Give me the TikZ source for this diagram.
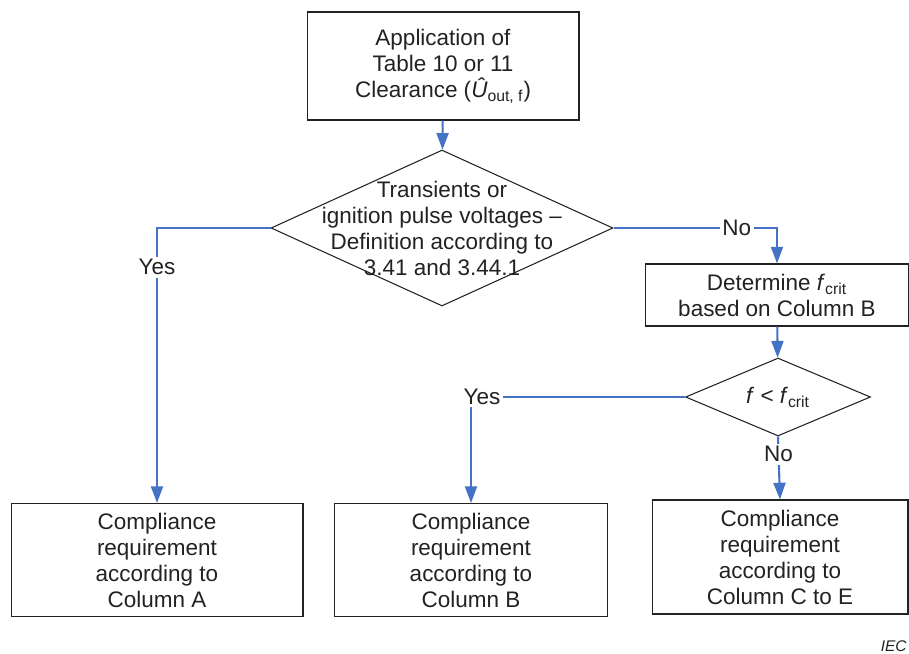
\documentclass[tikz,border=0pt]{standalone}
\usepackage{fontspec}
\setmainfont{Liberation Sans}
\usetikzlibrary{arrows.meta}
\usetikzlibrary{shapes.geometric}
\definecolor{flowblue}{RGB}{68,114,196}
\definecolor{inkgray}{RGB}{34,34,34}

\begin{document}
\begin{tikzpicture}[x=0.02cm,y=-0.02cm,
	font=\fontsize{12.8}{14.8}\selectfont,
	box/.style={draw=inkgray, line width=0.6pt, align=center, inner sep=0pt, text=inkgray},
	decision/.style={diamond, draw=inkgray, line width=0.6pt, inner sep=0pt},
	flow/.style={draw=flowblue, line width=1.2pt, -{Triangle[width=6.8pt,length=9.5pt]}},
	lbl/.style={fill=white, inner sep=1.5pt, text=inkgray}]
	\useasboundingbox (0,0) rectangle (909,653);
	% boxes
	\node[box, minimum width=5.44cm, minimum height=2.16cm] (appl) at (443,66)
		{Application of\\Table 10 or 11\\Clearance (\textit{Û}\textsubscript{out, f})};
	\node[decision, minimum width=6.84cm, minimum height=3.12cm,
		label={[name=transtext, align=center, text=inkgray]center:Transients or\\ignition pulse voltages --\\Definition according to\\3.41 and 3.44.1}] (trans) at (442,228) {};
	\node[box, minimum width=5.26cm, minimum height=1.24cm] (fcrit) at (777,295)
		{Determine \textit{f}\textsubscript{crit}\\based on Column B};
	\node[decision, minimum width=3.7cm, minimum height=1.56cm,
		label={[name=freqtext, text=inkgray]center:\textit{f} < \textit{f}\textsubscript{crit}}] (freq) at (778,397) {};
	\node[box, minimum width=5.84cm, minimum height=2.26cm] (colA) at (157,560)
		{Compliance\\requirement\\according to\\Column A};
	\node[box, minimum width=5.46cm, minimum height=2.26cm] (colB) at (471,560)
		{Compliance\\requirement\\according to\\Column B};
	\node[box, minimum width=5.12cm, minimum height=2.28cm] (colC) at (780,557)
		{Compliance\\requirement\\according to\\Column C to E};
	\node[anchor=base east, inner sep=0pt, text=inkgray, font=\fontsize{8.8}{10}\selectfont\itshape] (iec) at (907,651) {IEC};
	% connectors
	\draw[flow] (appl) -- (trans);
	\draw[flow] (trans.west) -| node[lbl, pos=0.571] {Yes} (colA.north);
	\draw[flow] (trans.east) -| node[lbl, pos=0.377] {No} (fcrit.north);
	\draw[flow] (fcrit) -- (freq);
	\draw[flow] (freq.west) -| node[lbl, pos=0.5, xshift=0.22cm] {Yes} (colB.north);
	\draw[flow] (freq.south) -- node[lbl, pos=0.28] {No} (colC.north);
\end{tikzpicture}
\end{document}
